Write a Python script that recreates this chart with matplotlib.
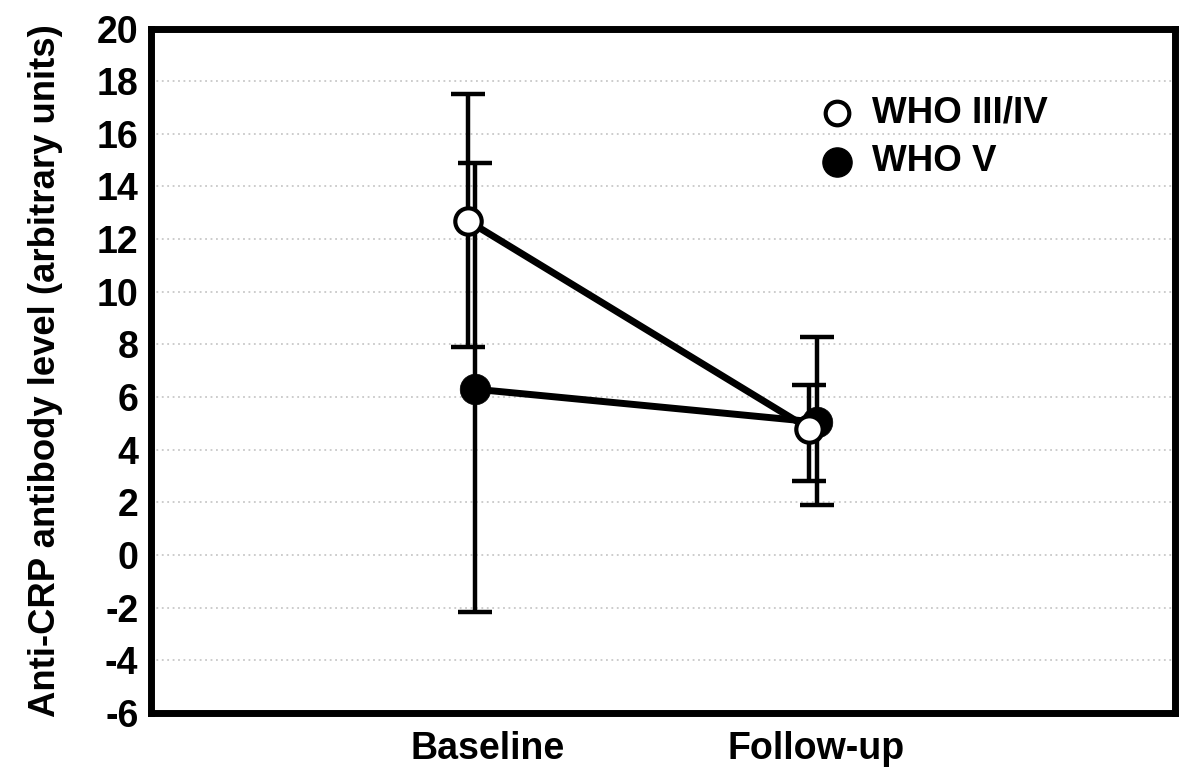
import matplotlib
matplotlib.use("Agg")
import matplotlib.pyplot as plt

# ---- data ----
categories = ["Baseline", "Follow-up"]
series_names = ["WHO III/IV", "WHO V"]
who34_mean = [12.7, 4.8]
who34_upper = [17.5, 6.45]
who34_lower = [7.9, 2.8]
who5_mean = [6.3, 5.05]
who5_upper = [14.9, 8.3]
who5_lower = [-2.15, 1.9]
yticks = list(range(-6, 21, 2))

# ---- layout constants ----
cat_pos = [1.0, 2.0]
off_34 = -0.072
off_5 = -0.05
tick_pos = [0.985, 1.95]

plt.rcParams['font.family'] = ['Liberation Sans', 'DejaVu Sans']
plt.rcParams['font.weight'] = 'bold'

fig = plt.figure(figsize=(12, 7.75), dpi=100)
ax = fig.add_axes([0.1258, 0.08, 0.8533, 0.8832])

ax.set_xlim(0, 3)
ax.set_ylim(-6, 20)
ax.set_yticks(yticks)
ax.set_yticklabels([str(t) for t in yticks], fontsize=27, fontweight='bold')
ax.set_xticks(tick_pos)
ax.set_xticklabels(categories, fontsize=27, fontweight='bold')
ax.tick_params(axis='both', length=0)
ax.tick_params(axis='y', pad=9)
ax.tick_params(axis='x', pad=13)
ax.grid(axis='y', linestyle=(0, (1, 2)), color='#c8c8c8', linewidth=1.3)
ax.set_axisbelow(True)
for s in ax.spines.values():
    s.set_linewidth(5)
    s.set_color('black')

ax.set_ylabel("Anti-CRP antibody level (arbitrary units)", fontsize=26.3,
              fontweight='bold', labelpad=24)

def draw(xs, mean, up, lo, filled, z):
    yerr = [[m - l for m, l in zip(mean, lo)], [u - m for m, u in zip(mean, up)]]
    ax.errorbar(xs, mean, yerr=yerr, fmt='none', ecolor='black',
                elinewidth=3.2, capsize=12.5, capthick=3.2, zorder=z)
    ax.plot(xs, mean, color='black', linewidth=5, zorder=z + 0.5)
    if filled:
        ax.plot(xs, mean, linestyle='none', marker='o', markersize=22,
                markerfacecolor='black', markeredgecolor='black',
                markeredgewidth=0.5, zorder=z + 1)
    else:
        ax.plot(xs, mean, linestyle='none', marker='o', markersize=19,
                markerfacecolor='white', markeredgecolor='black',
                markeredgewidth=3, zorder=z + 1)

draw([c + off_5 for c in cat_pos], who5_mean, who5_upper, who5_lower, True, 3)
draw([c + off_34 for c in cat_pos], who34_mean, who34_upper, who34_lower, False, 6)

# legend (drawn manually)
leg_x = 0.67
leg_y = [0.877, 0.805]
ax.plot([leg_x], [leg_y[0]], transform=ax.transAxes, marker='o', markersize=17,
        markerfacecolor='white', markeredgecolor='black', markeredgewidth=3,
        linestyle='none', clip_on=False)
ax.plot([leg_x], [leg_y[1]], transform=ax.transAxes, marker='o', markersize=21,
        markerfacecolor='black', markeredgecolor='black', linestyle='none',
        clip_on=False)
for y, name in zip(leg_y, series_names):
    ax.text(leg_x + 0.034, y, name, transform=ax.transAxes, fontsize=26.5,
            fontweight='bold', va='center', ha='left')

fig.savefig("out.png", dpi=100)
